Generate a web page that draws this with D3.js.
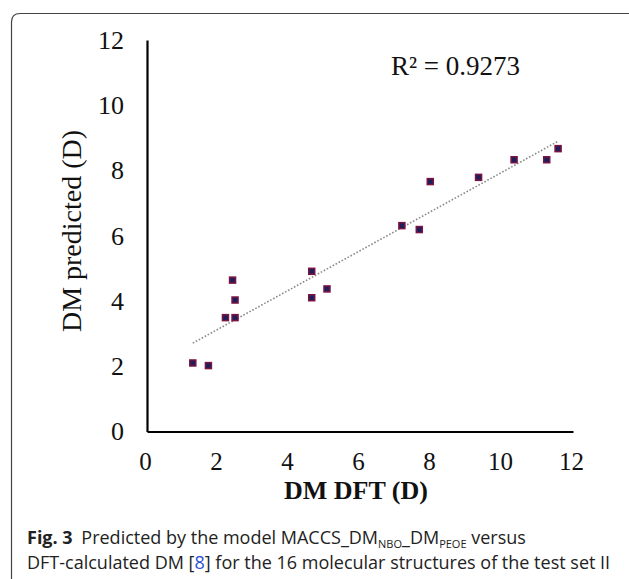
<!DOCTYPE html>
<html>
<head>
<meta charset="utf-8">
<script src="https://cdn.jsdelivr.net/npm/d3@7"></script>
<style>
  html, body { margin: 0; padding: 0; background: #fff; }
  .tick text { font-family: "Liberation Serif", "Times New Roman", serif; fill: #111; }
</style>
</head>
<body>
<div id="chart"></div>
<script>
// Test set II: DFT-calculated vs model-predicted dipole moments (D)
const dftValues       = [1.29, 1.73, 2.21, 2.48, 2.48, 2.41, 4.64, 4.64, 5.07, 7.18, 7.67, 7.98, 9.34, 10.34, 11.26, 11.58];
const predictedValues = [2.10, 2.02, 3.49, 3.49, 4.03, 4.64, 4.91, 4.10, 4.37, 6.31, 6.19, 7.66, 7.79, 8.33, 8.33, 8.67];
const xTicks = [0, 2, 4, 6, 8, 10, 12];
const yTicks = [0, 2, 4, 6, 8, 10, 12];
const r2Label = "R\u00B2 = 0.9273";
const xTitle = "DM DFT (D)";
const yTitle = "DM predicted (D)";

const width = 629, height = 579;
const margin = {top: 40, right: 56, bottom: 147.5, left: 147};

const svg = d3.select("#chart")
  .append("svg")
    .attr("width", width)
    .attr("height", height);

svg.append("rect")
  .attr("width", width)
  .attr("height", height)
  .attr("fill", "#fff");

// frame of the figure (top + left edges with rounded corner)
svg.append("path")
  .attr("d", "M11.5," + height + " L11.5,22 Q11.5,13.5 20,13.5 L" + width + ",13.5")
  .attr("fill", "none")
  .attr("stroke", "#444")
  .attr("stroke-width", 1.2);

const x = d3.scaleLinear()
  .domain([0, 12])
  .range([margin.left, width - margin.right]);
const y = d3.scaleLinear()
  .domain([0, 12])
  .range([height - margin.bottom, margin.top]);

// x axis
const gx = svg.append("g")
  .attr("transform", "translate(0," + y(0) + ")")
  .call(d3.axisBottom(x).tickValues(xTicks).tickSize(0).tickSizeOuter(0).tickPadding(21));
gx.select(".domain").attr("stroke", "#000").attr("stroke-width", 2.2);
gx.selectAll(".tick text").attr("font-size", 25).attr("dx", "-2");

// y axis
const gy = svg.append("g")
  .attr("transform", "translate(" + x(0) + ",0)")
  .call(d3.axisLeft(y).tickValues(yTicks).tickSize(0).tickSizeOuter(0).tickPadding(23));
gy.select(".domain").attr("stroke", "#000").attr("stroke-width", 2.2);
gy.selectAll(".tick text").attr("font-size", 26);

// axis titles
svg.append("text")
  .attr("x", 356)
  .attr("y", 499)
  .attr("text-anchor", "middle")
  .attr("font-family", "Liberation Serif, serif")
  .attr("font-weight", "bold")
  .attr("font-size", 26)
  .attr("fill", "#111")
  .text(xTitle);

svg.append("text")
  .attr("transform", "translate(81,231) rotate(-90)")
  .attr("text-anchor", "middle")
  .attr("font-family", "Liberation Serif, serif")
  .attr("font-size", 28)
  .attr("fill", "#111")
  .text(yTitle);

// least-squares trend line
const mx = d3.mean(dftValues), my = d3.mean(predictedValues);
const slope = d3.sum(dftValues, (d, i) => (d - mx) * (predictedValues[i] - my)) /
              d3.sum(dftValues, d => (d - mx) * (d - mx));
const intercept = my - slope * mx;
const [x0, x1] = d3.extent(dftValues);
svg.append("line")
  .attr("x1", x(x0)).attr("y1", y(intercept + slope * x0))
  .attr("x2", x(x1)).attr("y2", y(intercept + slope * x1))
  .attr("stroke", "#8a8a8a")
  .attr("stroke-width", 1.6)
  .attr("stroke-dasharray", "1.6,1.8");

// points
svg.selectAll("rect.pt")
  .data(dftValues.map((d, i) => [d, predictedValues[i]]))
  .enter()
  .append("rect")
    .attr("class", "pt")
    .attr("x", d => x(d[0]) - 3)
    .attr("y", d => y(d[1]) - 3)
    .attr("width", 6)
    .attr("height", 6)
    .attr("fill", "#1f1d5a")
    .attr("stroke", "#7a1442")
    .attr("stroke-width", 1.5);

// R squared
svg.append("text")
  .attr("x", 391)
  .attr("y", 75)
  .attr("font-family", "Liberation Serif, serif")
  .attr("font-size", 27)
  .attr("fill", "#111")
  .text(r2Label);

// caption
const cap = svg.append("g")
  .attr("font-family", "Open Sans, Noto Sans, sans-serif")
  .attr("font-size", 18)
  .attr("fill", "#222");

const line1 = cap.append("text").attr("x", 27).attr("y", 544);
line1.append("tspan").attr("font-weight", "bold").text("Fig. 3");
line1.append("tspan").attr("dx", 4).text(" Predicted by the model MACCS_DM");
line1.append("tspan").attr("font-size", 11).attr("dy", 4).text("NBO");
line1.append("tspan").attr("dy", -4).text("_DM");
line1.append("tspan").attr("font-size", 11).attr("dy", 4).text("PEOE");
line1.append("tspan").attr("dy", -4).text(" versus");

const line2 = cap.append("text").attr("x", 27).attr("y", 569);
line2.append("tspan").text("DFT-calculated DM [");
line2.append("tspan").attr("fill", "#2b4fd6").text("8");
line2.append("tspan").text("] for the 16 molecular structures of the test set II");
</script>
</body>
</html>
